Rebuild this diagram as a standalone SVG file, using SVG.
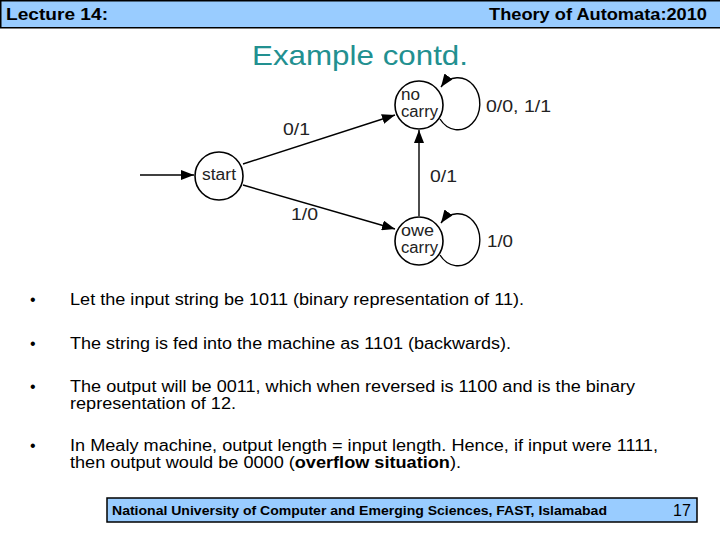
<svg xmlns="http://www.w3.org/2000/svg" width="720" height="540" viewBox="0 0 720 540">
<style>
.bar{fill:#99ccff;stroke:#000;stroke-width:1.5}
.hdr{font-family:"Liberation Sans",Arial,sans-serif;font-weight:bold;font-size:16px;fill:#000}
.title{font-family:"Liberation Sans",Arial,sans-serif;font-size:28px;fill:#229090}
.body{font-family:"Liberation Sans",Arial,sans-serif;font-size:16px;fill:#000}
.node{fill:#fff;stroke:#000;stroke-width:1.6}
.ntxt{font-family:"Liberation Sans",Arial,sans-serif;font-size:16px;fill:#222}
.lbl{font-family:"Liberation Sans",Arial,sans-serif;font-size:17px;fill:#222}
.edge{fill:none;stroke:#000;stroke-width:1.4}
.foot{font-family:"Liberation Sans",Arial,sans-serif;font-weight:bold;font-size:13px;fill:#000}
</style>
<defs>
<marker id="ah" markerUnits="userSpaceOnUse" markerWidth="14" markerHeight="10" refX="13" refY="5" orient="auto">
<path d="M0,0 L13,5 L0,10 z" fill="#000"/>
</marker>
</defs>
<rect x="0" y="0" width="720" height="540" fill="#fff"/>
<g id="header">
<rect class="bar" x="0.75" y="0.75" width="720" height="27"/>
<text class="hdr" x="6" y="20" textLength="102" lengthAdjust="spacingAndGlyphs">Lecture 14:</text>
<text class="hdr" x="489" y="20" textLength="218" lengthAdjust="spacingAndGlyphs">Theory of Automata:2010</text>
</g>
<text class="title" x="252" y="65" textLength="216" lengthAdjust="spacingAndGlyphs">Example contd.</text>
<g id="connectors">
<line class="edge" x1="140" y1="175" x2="194" y2="175" stroke-width="2.5" marker-end="url(#ah)"/>
<line class="edge" x1="243" y1="164" x2="395" y2="115" marker-end="url(#ah)"/>
<line class="edge" x1="243" y1="185" x2="395" y2="229" marker-end="url(#ah)"/>
<line class="edge" x1="419" y1="216" x2="419" y2="130" stroke-width="3" marker-end="url(#ah)"/>
<path class="edge" d="M440,119 A22 26 0 1 0 441,87" marker-end="url(#ah)"/>
<path class="edge" d="M440,255 A22 26 0 1 0 441,223" marker-end="url(#ah)"/>
<text class="lbl" x="283" y="135" textLength="27" lengthAdjust="spacingAndGlyphs">0/1</text>
<text class="lbl" x="291" y="220" textLength="27" lengthAdjust="spacingAndGlyphs">1/0</text>
<text class="lbl" x="430" y="182" textLength="27" lengthAdjust="spacingAndGlyphs">0/1</text>
<text class="lbl" x="486" y="112" textLength="65" lengthAdjust="spacingAndGlyphs">0/0, 1/1</text>
<text class="lbl" x="487" y="247" textLength="26" lengthAdjust="spacingAndGlyphs">1/0</text>
</g>
<g id="start">
<circle class="node" cx="219" cy="176" r="24"/>
<text class="ntxt" x="202" y="180" textLength="34" lengthAdjust="spacingAndGlyphs">start</text>
</g>
<g id="nocarry">
<circle class="node" cx="419" cy="105" r="24"/>
<text class="ntxt" x="401" y="100" textLength="19" lengthAdjust="spacingAndGlyphs">no</text>
<text class="ntxt" x="401" y="117" textLength="37" lengthAdjust="spacingAndGlyphs">carry</text>
</g>
<g id="owecarry">
<circle class="node" cx="419" cy="241" r="24"/>
<text class="ntxt" x="401" y="236" textLength="33" lengthAdjust="spacingAndGlyphs">owe</text>
<text class="ntxt" x="401" y="253" textLength="37" lengthAdjust="spacingAndGlyphs">carry</text>
</g>
<g id="bullets" class="body">
<text x="30" y="305">•</text>
<text x="70" y="305" textLength="454" lengthAdjust="spacingAndGlyphs">Let the input string be 1011 (binary representation of 11).</text>
<text x="30" y="349">•</text>
<text x="70" y="349" textLength="441" lengthAdjust="spacingAndGlyphs">The string is fed into the machine as 1101 (backwards).</text>
<text x="30" y="392">•</text>
<text x="70" y="392" textLength="565" lengthAdjust="spacingAndGlyphs">The output will be 0011, which when reversed is 1100 and is the binary</text>
<text x="70" y="409" textLength="166" lengthAdjust="spacingAndGlyphs">representation of 12.</text>
<text x="30" y="451">•</text>
<text x="70" y="451" textLength="588" lengthAdjust="spacingAndGlyphs">In Mealy machine, output length = input length. Hence, if input were 1111,</text>
<text x="70" y="468" textLength="391" lengthAdjust="spacingAndGlyphs">then output would be 0000 (<tspan font-weight="bold">overflow situation</tspan>).</text>
</g>
<g id="footer">
<rect class="bar" x="107" y="498" width="590" height="24"/>
<text class="foot" x="112" y="515" textLength="495" lengthAdjust="spacingAndGlyphs">National University of Computer and Emerging Sciences, FAST, Islamabad</text>
<text class="body" x="682" y="516" text-anchor="middle" font-size="14">17</text>
</g>
</svg>
